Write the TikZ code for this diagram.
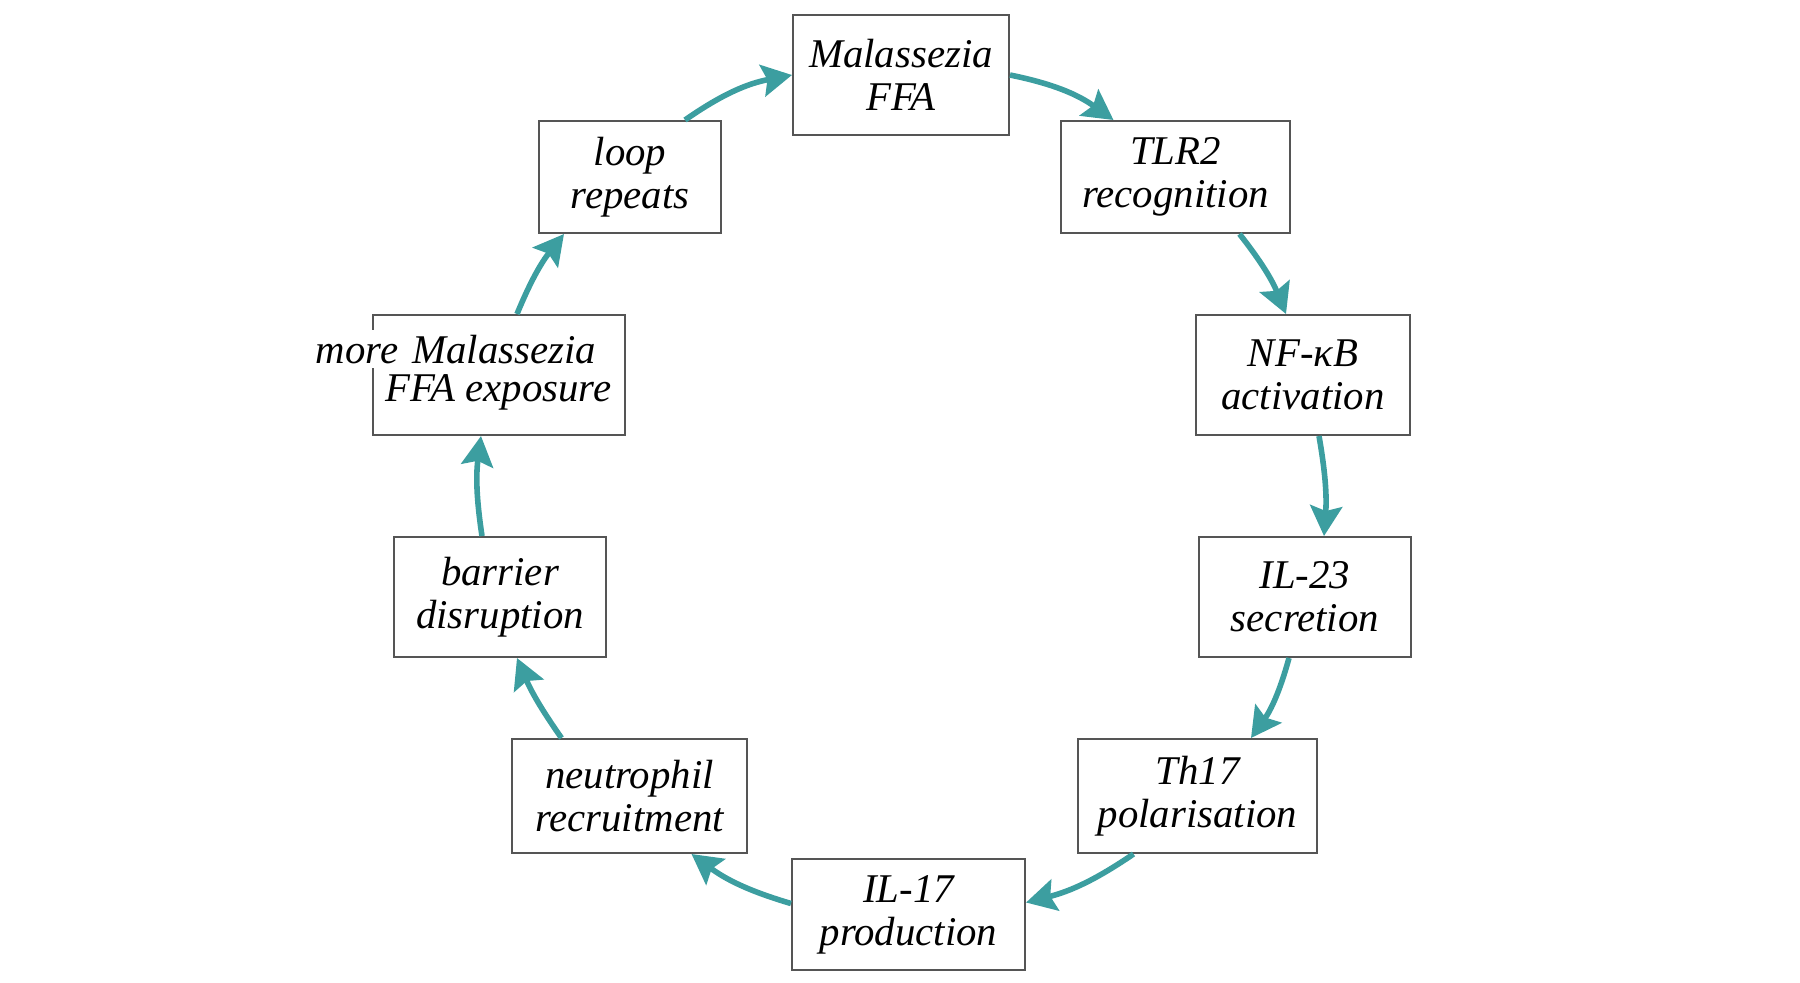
\documentclass[tikz,border=0pt]{standalone}
\usepackage{fontspec}
\setmainfont{Liberation Serif}
\usetikzlibrary{arrows.meta}
\definecolor{tealarr}{HTML}{3C9EA0}
\definecolor{boxgray}{HTML}{555555}
\begin{document}
\begin{tikzpicture}[x=0.5pt,y=-0.5pt,
  box/.style={draw=boxgray, line width=1pt, fill=white, align=center, inner sep=0pt,
    font=\fontsize{20.4}{21.5}\selectfont\itshape},
  lbl/.style={align=center, inner sep=0pt, font=\fontsize{20.4}{21.5}\selectfont\itshape},
  arr/.style={draw=tealarr, line width=2.8pt, -{Stealth[length=15pt,width=16pt,inset=2.5pt]}}]
\useasboundingbox (0,0) rectangle (1800,982);
\node[box, minimum width=108pt, minimum height=60pt] (mal) at (901,75) {Malassezia\\FFA};
\node[box, minimum width=114.5pt, minimum height=56pt] (tlr) at (1175.5,177) {TLR2\\recognition};
\node[box, minimum width=107pt, minimum height=60pt] (nfk) at (1303,375) {NF-κB\\activation};
\node[box, minimum width=106pt, minimum height=60pt] (il23) at (1305,597) {IL-23\\secretion};
\node[box, minimum width=119.5pt, minimum height=57pt] (th17) at (1197.5,796) {Th17\\polarisation};
\node[box, minimum width=116.5pt, minimum height=55.5pt] (il17) at (908.5,914.5) {IL-17\\production};
\node[box, minimum width=117.5pt, minimum height=57pt] (neu) at (629.5,796) {neutrophil\\recruitment};
\node[box, minimum width=106pt, minimum height=60pt] (bar) at (500,597) {barrier\\disruption};
\node[box, minimum width=126pt, minimum height=60pt] (more) at (499,375) {};
\node[lbl, fill=white, inner sep=2.5pt, anchor=base] (moreA) at (456,363) {more\hspace{0.35em}Malassezia};
\node[lbl, anchor=base] (moreB) at (498.5,401) {FFA exposure};
\node[box, minimum width=91pt, minimum height=56pt] (loop) at (630,177) {loop\\repeats};

\draw[arr] (mal.east) to[bend left=12] ([xshift=-31pt]tlr.north);
\draw[arr] ([xshift=32pt]tlr.south) to[bend left=8] ([xshift=-8.5pt]nfk.north);
\draw[arr] ([xshift=8pt]nfk.south) to[bend left=7] ([xshift=9.5pt]il23.north);
\draw[arr] ([xshift=-8pt]il23.south) to[bend left=10] ([xshift=26.75pt]th17.north);
\draw[arr] ([xshift=-32pt]th17.south) to[bend left=10] ([yshift=6pt]il17.east);
\draw[arr] ([yshift=5.5pt]il17.west) to[bend left=10] ([xshift=31pt]neu.south);
\draw[arr] ([xshift=-34pt]neu.north) to[bend left=6] ([xshift=8.5pt]bar.south);
\draw[arr] ([xshift=-9pt]bar.north) to[bend left=8] ([xshift=-9pt]more.south);
\draw[arr] ([xshift=9pt]more.north) to[bend left=8] ([xshift=-33pt]loop.south);
\draw[arr] ([xshift=27.5pt]loop.north) to[bend left=12] (mal.west);
\end{tikzpicture}
\end{document}
